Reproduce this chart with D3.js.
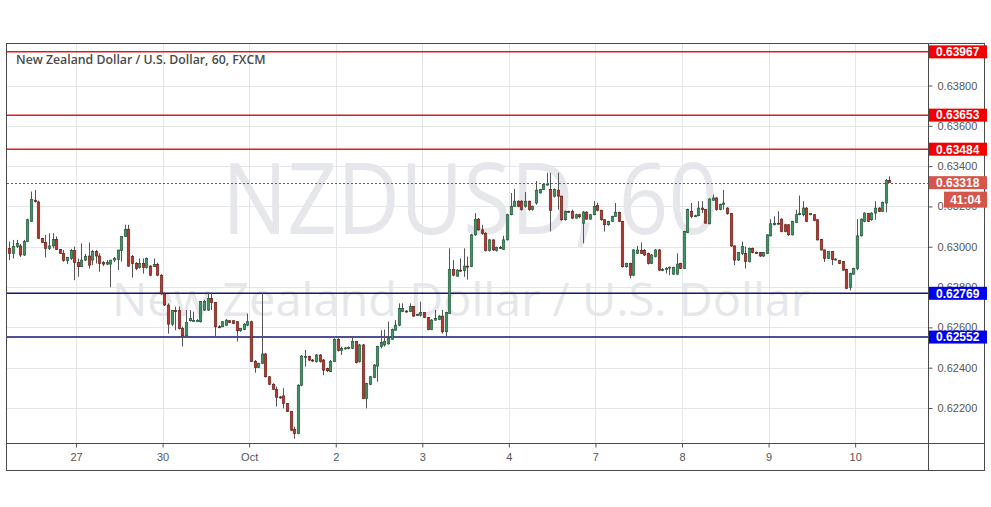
<!DOCTYPE html>
<html><head><meta charset="utf-8">
<script src="https://cdn.jsdelivr.net/npm/d3@7"></script>
<style>
html,body{margin:0;padding:0;background:#fff;}
svg{display:block;}
</style></head><body>
<svg id="chart" width="991" height="507"></svg>
<script>
const title = "New Zealand Dollar / U.S. Dollar, 60, FXCM";
const watermarkSymbol = "NZDUSD, 60";
const watermarkName = "New Zealand Dollar / U.S. Dollar";
const dayLabels = ["27","30","Oct","2","3","4","7","8","9","10"];
const dayStartIndex = [19,43,67,91,115,139,163,187,211,235];
const priceTicks = [0.638,0.636,0.634,0.632,0.630,0.628,0.626,0.624,0.622];
const resistanceLevels = [0.63967,0.63653,0.63484];
const supportLevels = [0.62769,0.62552];
const lastPrice = 0.63318;
const countdown = "41:04";
// hourly candles: [open, high, low, close]
const ohlc = [
[0.62992,0.63026,0.62934,0.62967],[0.62967,0.63034,0.62942,0.63001],[0.63001,0.63034,0.62994,0.63017],[0.63004,0.63014,0.62949,0.62959],
[0.62959,0.63034,0.62954,0.63026],[0.63026,0.63139,0.63024,0.63134],[0.63126,0.63274,0.63124,0.63234],[0.63231,0.63281,0.63219,0.63224],
[0.63222,0.63229,0.63039,0.63042],[0.63042,0.63044,0.63019,0.63021],[0.63021,0.63059,0.62947,0.62992],[0.62992,0.63067,0.62984,0.63004],
[0.63004,0.63067,0.62992,0.63037],[0.63037,0.63051,0.62984,0.62987],[0.62987,0.62989,0.62964,0.62967],[0.62967,0.62984,0.62926,0.62931],
[0.62931,0.62949,0.62914,0.62947],[0.62942,0.62989,0.62934,0.62981],[0.62981,0.63001,0.62834,0.62921],[0.62921,0.62942,0.62851,0.62901],
[0.62901,0.63017,0.62899,0.62934],[0.62934,0.62964,0.62929,0.62951],[0.62954,0.63021,0.62892,0.62909],[0.62934,0.62984,0.62909,0.62976],
[0.62976,0.62984,0.62917,0.62954],[0.62954,0.62967,0.62876,0.62917],[0.62921,0.62929,0.62904,0.62914],[0.62914,0.62934,0.62909,0.62921],
[0.62914,0.62934,0.62799,0.62934],[0.62934,0.62949,0.62924,0.62942],[0.62937,0.62984,0.62884,0.62984],[0.62981,0.63051,0.62926,0.63051],
[0.63051,0.63109,0.63049,0.63087],[0.63087,0.63109,0.62901,0.62904],[0.62951,0.62959,0.62847,0.62917],[0.62917,0.62924,0.62884,0.62892],
[0.62897,0.62942,0.62892,0.62917],[0.62917,0.62942,0.62867,0.62897],[0.62897,0.62947,0.62892,0.62942],[0.62904,0.62909,0.62854,0.62859],
[0.62901,0.62942,0.62899,0.62912],[0.62912,0.62921,0.62854,0.62859],[0.62859,0.62864,0.62761,0.62766],[0.62766,0.62771,0.62706,0.62711],
[0.62711,0.62719,0.62569,0.62616],[0.62616,0.62686,0.62606,0.62683],[0.62683,0.62703,0.62586,0.62678],[0.62683,0.62703,0.62589,0.62594],
[0.62594,0.62603,0.62505,0.62558],[0.62558,0.62686,0.62552,0.62624],[0.62633,0.62686,0.62628,0.62644],[0.62633,0.62678,0.62628,0.62634],
[0.62633,0.62641,0.62628,0.62634],[0.62628,0.62731,0.62624,0.62728],[0.62686,0.62736,0.62681,0.62728],[0.62686,0.62773,0.62681,0.62744],
[0.62744,0.62773,0.62686,0.62723],[0.62723,0.62726,0.62555,0.62603],[0.62603,0.62611,0.62596,0.62601],[0.62603,0.62631,0.62601,0.62628],
[0.62611,0.62641,0.62606,0.62636],[0.62633,0.62636,0.62621,0.62624],[0.62633,0.62636,0.62616,0.62619],[0.62628,0.62631,0.62530,0.62583],
[0.62583,0.62596,0.62578,0.62594],[0.62589,0.62621,0.62586,0.62616],[0.62611,0.62669,0.62606,0.62628],[0.62628,0.62633,0.62428,0.62430],
[0.62430,0.62438,0.62375,0.62401],[0.62401,0.62425,0.62398,0.62421],[0.62421,0.62769,0.62418,0.62468],[0.62468,0.62473,0.62351,0.62355],
[0.62355,0.62358,0.62313,0.62318],[0.62318,0.62323,0.62290,0.62293],[0.62293,0.62307,0.62207,0.62253],[0.62255,0.62260,0.62245,0.62253],
[0.62260,0.62298,0.62198,0.62223],[0.62223,0.62225,0.62180,0.62182],[0.62182,0.62185,0.62085,0.62090],[0.62093,0.62107,0.62048,0.62073],
[0.62073,0.62318,0.62070,0.62313],[0.62313,0.62463,0.62308,0.62458],[0.62453,0.62488,0.62405,0.62455],[0.62455,0.62460,0.62433,0.62438],
[0.62438,0.62443,0.62428,0.62436],[0.62430,0.62468,0.62425,0.62463],[0.62463,0.62468,0.62425,0.62430],[0.62438,0.62443,0.62363,0.62388],
[0.62396,0.62400,0.62378,0.62385],[0.62380,0.62438,0.62378,0.62430],[0.62430,0.62546,0.62428,0.62541],[0.62541,0.62546,0.62480,0.62485],
[0.62485,0.62505,0.62463,0.62496],[0.62496,0.62503,0.62490,0.62498],[0.62498,0.62505,0.62491,0.62500],[0.62496,0.62555,0.62493,0.62530],
[0.62530,0.62533,0.62421,0.62425],[0.62430,0.62518,0.62425,0.62513],[0.62513,0.62518,0.62245,0.62248],[0.62248,0.62325,0.62198,0.62321],
[0.62318,0.62358,0.62313,0.62355],[0.62351,0.62418,0.62348,0.62413],[0.62408,0.62508,0.62330,0.62505],[0.62505,0.62586,0.62496,0.62525],
[0.62513,0.62589,0.62505,0.62530],[0.62518,0.62628,0.62515,0.62546],[0.62541,0.62594,0.62538,0.62589],[0.62586,0.62636,0.62583,0.62611],
[0.62611,0.62719,0.62606,0.62694],[0.62678,0.62719,0.62676,0.62694],[0.62681,0.62686,0.62673,0.62679],[0.62678,0.62719,0.62676,0.62703],
[0.62703,0.62706,0.62651,0.62656],[0.62663,0.62668,0.62656,0.62664],[0.62661,0.62728,0.62653,0.62674],[0.62674,0.62676,0.62646,0.62649],
[0.62649,0.62651,0.62586,0.62589],[0.62589,0.62641,0.62586,0.62636],[0.62636,0.62686,0.62633,0.62644],[0.62639,0.62661,0.62636,0.62656],
[0.62656,0.62686,0.62569,0.62578],[0.62578,0.62678,0.62556,0.62674],[0.62669,0.62992,0.62666,0.62887],[0.62887,0.62934,0.62854,0.62859],
[0.62854,0.62889,0.62851,0.62884],[0.62884,0.62942,0.62876,0.62882],[0.62882,0.62992,0.62851,0.62904],[0.62904,0.62951,0.62837,0.62902],
[0.62902,0.63064,0.62899,0.63059],[0.63059,0.63167,0.63054,0.63137],[0.63137,0.63142,0.63079,0.63084],[0.63084,0.63109,0.63059,0.63067],
[0.63067,0.63072,0.62976,0.62981],[0.62981,0.63039,0.62976,0.63034],[0.63034,0.63037,0.62979,0.62984],[0.62981,0.63001,0.62976,0.62997],
[0.62997,0.63004,0.62989,0.62996],[0.62987,0.63054,0.62984,0.63034],[0.63034,0.63164,0.63031,0.63159],[0.63159,0.63267,0.63156,0.63201],
[0.63201,0.63287,0.63199,0.63226],[0.63226,0.63231,0.63196,0.63201],[0.63226,0.63231,0.63179,0.63184],[0.63201,0.63271,0.63194,0.63226],
[0.63226,0.63229,0.63179,0.63184],[0.63184,0.63204,0.63179,0.63201],[0.63217,0.63326,0.63209,0.63281],[0.63267,0.63287,0.63264,0.63284],
[0.63284,0.63314,0.63281,0.63309],[0.63309,0.63367,0.63304,0.63311],[0.63284,0.63367,0.63076,0.63181],[0.63251,0.63289,0.63244,0.63284],
[0.63281,0.63367,0.63184,0.63251],[0.63251,0.63254,0.63129,0.63134],[0.63134,0.63179,0.63129,0.63176],[0.63176,0.63179,0.63169,0.63174],
[0.63176,0.63184,0.63137,0.63142],[0.63142,0.63164,0.63139,0.63159],[0.63159,0.63164,0.63142,0.63149],[0.63117,0.63177,0.63017,0.63172],
[0.63172,0.63176,0.63134,0.63137],[0.63137,0.63162,0.63134,0.63159],[0.63159,0.63226,0.63156,0.63201],[0.63204,0.63219,0.63176,0.63181],
[0.63181,0.63184,0.63129,0.63134],[0.63134,0.63137,0.63076,0.63109],[0.63109,0.63129,0.63104,0.63126],[0.63126,0.63154,0.63124,0.63151],
[0.63151,0.63217,0.63149,0.63171],[0.63171,0.63174,0.63122,0.63126],[0.63126,0.63129,0.62896,0.62901],[0.62901,0.62921,0.62896,0.62917],
[0.62917,0.62921,0.62844,0.62859],[0.62859,0.62989,0.62854,0.62984],[0.62967,0.63004,0.62964,0.62984],[0.62981,0.63021,0.62964,0.62967],
[0.62981,0.62989,0.62954,0.62959],[0.62967,0.62971,0.62912,0.62917],[0.62917,0.62964,0.62914,0.62959],[0.62951,0.62989,0.62947,0.62984],
[0.62984,0.62989,0.62879,0.62884],[0.62884,0.62894,0.62879,0.62887],[0.62887,0.62899,0.62867,0.62892],[0.62897,0.62901,0.62859,0.62899],
[0.62864,0.62901,0.62861,0.62897],[0.62864,0.62967,0.62861,0.62914],[0.62917,0.62921,0.62889,0.62892],[0.62892,0.63079,0.62889,0.63076],
[0.63071,0.63189,0.63069,0.63184],[0.63176,0.63217,0.63142,0.63151],[0.63151,0.63159,0.63147,0.63154],[0.63154,0.63226,0.63151,0.63192],
[0.63192,0.63226,0.63167,0.63184],[0.63184,0.63187,0.63114,0.63117],[0.63114,0.63241,0.63111,0.63237],[0.63231,0.63259,0.63227,0.63242],
[0.63242,0.63246,0.63179,0.63184],[0.63184,0.63214,0.63181,0.63209],[0.63209,0.63281,0.63184,0.63217],[0.63192,0.63196,0.63159,0.63164],
[0.63164,0.63167,0.62999,0.63004],[0.63004,0.63007,0.62909,0.62934],[0.62934,0.62974,0.62929,0.62971],[0.62967,0.63026,0.62959,0.63001],
[0.62967,0.63001,0.62892,0.62926],[0.62926,0.62996,0.62922,0.62992],[0.62992,0.62996,0.62967,0.62971],[0.62971,0.62976,0.62964,0.62969],
[0.62971,0.62974,0.62949,0.62954],[0.62954,0.62974,0.62949,0.62971],[0.62967,0.63062,0.62964,0.63059],[0.63054,0.63137,0.63051,0.63114],
[0.63109,0.63151,0.63106,0.63117],[0.63117,0.63176,0.63109,0.63116],[0.63137,0.63141,0.63072,0.63076],[0.63109,0.63114,0.63072,0.63076],
[0.63109,0.63112,0.63054,0.63059],[0.63059,0.63129,0.63056,0.63126],[0.63121,0.63184,0.63117,0.63159],[0.63159,0.63254,0.63156,0.63164],
[0.63159,0.63226,0.63151,0.63192],[0.63192,0.63196,0.63122,0.63126],[0.63159,0.63167,0.63156,0.63164],[0.63159,0.63162,0.63127,0.63131],
[0.63134,0.63137,0.63031,0.63034],[0.63037,0.63039,0.62981,0.62984],[0.62984,0.62987,0.62924,0.62942],[0.62942,0.62979,0.62939,0.62976],
[0.62976,0.62979,0.62909,0.62937],[0.62937,0.62944,0.62932,0.62939],[0.62931,0.62934,0.62914,0.62917],[0.62926,0.62929,0.62881,0.62884],
[0.62887,0.62891,0.62789,0.62794],[0.62799,0.62871,0.62783,0.62867],[0.62864,0.62896,0.62861,0.62892],[0.62892,0.63137,0.62884,0.63054],
[0.63054,0.63141,0.63051,0.63137],[0.63126,0.63171,0.63122,0.63167],[0.63164,0.63167,0.63122,0.63126],[0.63134,0.63171,0.63129,0.63167],
[0.63167,0.63226,0.63134,0.63192],[0.63192,0.63196,0.63172,0.63176],[0.63176,0.63224,0.63172,0.63221],[0.63217,0.63336,0.63171,0.63329],
[0.63329,0.63349,0.63317,0.63318]
];

const svg = d3.select("#chart");
const L = 7, R = 928, T = 43.5, B = 443, FR = 984.5, FB = 470.5;

const x = d3.scaleLinear().domain([-0.5, 254.7]).range([7.5, R]);
const y = d3.scaleLinear().domain([0.622, 0.638]).range([408, 85.5]);

svg.append("rect").attr("width", 991).attr("height", 507).attr("fill", "#fff");

svg.append("defs").append("clipPath").attr("id", "plot")
  .append("rect").attr("x", L).attr("y", T).attr("width", R - L).attr("height", B - T);

const plot = svg.append("g").attr("clip-path", "url(#plot)");

// grid
plot.append("g").selectAll("line").data(dayStartIndex).join("line")
  .attr("x1", d => Math.round(x(d - 0.5)) + 0.5).attr("x2", d => Math.round(x(d - 0.5)) + 0.5)
  .attr("y1", T).attr("y2", B).attr("stroke", "#e4e6ea").attr("stroke-width", 1);
plot.append("g").selectAll("line").data(priceTicks).join("line")
  .attr("x1", L).attr("x2", R)
  .attr("y1", d => Math.round(y(d)) + 0.5).attr("y2", d => Math.round(y(d)) + 0.5)
  .attr("stroke", "#e4e6ea").attr("stroke-width", 1);

// watermark
plot.append("text").attr("x", 222).attr("y", 234)
  .attr("font-family", "'Open Sans', 'Liberation Sans', sans-serif").attr("font-size", 98)
  .attr("textLength", 496).attr("lengthAdjust", "spacingAndGlyphs")
  .attr("fill", "#e6e7ea").text(watermarkSymbol);
plot.append("text").attr("x", 112).attr("y", 316)
  .attr("font-family", "'Open Sans', 'Liberation Sans', sans-serif").attr("font-size", 46)
  .attr("textLength", 698).attr("lengthAdjust", "spacingAndGlyphs")
  .attr("fill", "#e6e7ea").text(watermarkName);

// level lines
plot.append("g").selectAll("line").data(resistanceLevels).join("line")
  .attr("x1", L).attr("x2", R)
  .attr("y1", d => y(d)).attr("y2", d => y(d))
  .attr("stroke", "#e31a1a").attr("stroke-width", 1.5);
plot.append("g").selectAll("line").data(supportLevels).join("line")
  .attr("x1", L).attr("x2", R)
  .attr("y1", d => y(d)).attr("y2", d => y(d))
  .attr("stroke", "#16166e").attr("stroke-width", 1.5);

// last price dotted line
plot.append("line").attr("x1", L).attr("x2", R)
  .attr("y1", Math.round(y(lastPrice)) + 0.5).attr("y2", Math.round(y(lastPrice)) + 0.5)
  .attr("stroke", "#c0392b").attr("stroke-width", 1).attr("stroke-dasharray", "2,2");

// candles
const cg = plot.append("g");
cg.selectAll("line").data(ohlc).join("line")
  .attr("x1", (d, i) => Math.round(x(i)) + 0.5).attr("x2", (d, i) => Math.round(x(i)) + 0.5)
  .attr("y1", d => y(d[1])).attr("y2", d => y(d[2]))
  .attr("stroke", "#555").attr("stroke-width", 1);
cg.selectAll("rect").data(ohlc).join("rect")
  .attr("x", (d, i) => Math.round(x(i)) - 0.75)
  .attr("width", 2.5)
  .attr("y", d => y(Math.max(d[0], d[3])))
  .attr("height", d => Math.max(1, Math.abs(y(d[0]) - y(d[3]))))
  .attr("fill", d => d[3] >= d[0] ? "#3f9365" : "#b23a30")
  .attr("stroke", d => d[3] >= d[0] ? "#1f4f35" : "#5e1a15")
  .attr("stroke-width", 0.6);

// right axis
const ay = svg.append("g").attr("transform", `translate(${R + 0.5},0)`)
  .call(d3.axisRight(y).tickValues(priceTicks).tickFormat(d3.format(".5f")).tickSize(4).tickPadding(5));
ay.select(".domain").remove();
ay.selectAll("line").attr("stroke", "#555");
ay.selectAll("text").attr("fill", "#555").attr("font-size", 11)
  .attr("font-family", "'Liberation Sans', Arial, sans-serif");

// bottom axis
const ax = svg.append("g").attr("transform", `translate(0,${B + 0.5})`)
  .call(d3.axisBottom(x).tickValues(dayStartIndex.map(d => d - 0.5))
    .tickFormat((d, i) => dayLabels[i]).tickSize(4).tickPadding(6));
ax.select(".domain").remove();
ax.selectAll("line").attr("stroke", "#555");
ax.selectAll("text").attr("fill", "#555").attr("font-size", 11)
  .attr("font-family", "'Liberation Sans', Arial, sans-serif");

// frame
svg.append("rect").attr("x", 6.5).attr("y", T).attr("width", FR - 6.5).attr("height", FB - T)
  .attr("fill", "none").attr("stroke", "#4a4a4a").attr("stroke-width", 1);
svg.append("line").attr("x1", R + 0.5).attr("x2", R + 0.5).attr("y1", T).attr("y2", FB)
  .attr("stroke", "#4a4a4a");
svg.append("line").attr("x1", 6.5).attr("x2", FR).attr("y1", B + 0.5).attr("y2", B + 0.5)
  .attr("stroke", "#4a4a4a");

// level labels
function priceTag(value, bg, h) {
  const cy = y(value);
  const g = svg.append("g");
  g.append("rect").attr("x", R + 1).attr("y", cy - h / 2).attr("width", 987 - R - 1).attr("height", h)
    .attr("fill", bg);
  g.append("text").attr("x", 936).attr("y", cy).attr("dy", "0.36em")
    .attr("font-family", "'Liberation Sans', Arial, sans-serif").attr("font-weight", "bold")
    .attr("font-size", 12).attr("fill", "#fff").text(d3.format(".5f")(value));
}
resistanceLevels.forEach(v => priceTag(v, "#f20000", 13));
supportLevels.forEach(v => priceTag(v, "#0000f0", 13));
priceTag(lastPrice, "#d4564a", 13);
// countdown box
{
  const cy = y(lastPrice) + 17;
  svg.append("rect").attr("x", 944).attr("y", cy - 8).attr("width", 43).attr("height", 16).attr("fill", "#d4564a");
  svg.append("text").attr("x", 965.5).attr("y", cy).attr("dy", "0.36em").attr("text-anchor", "middle")
    .attr("font-family", "'Liberation Sans', Arial, sans-serif").attr("font-weight", "bold")
    .attr("font-size", 12).attr("fill", "#fff").text(countdown);
}

// title
svg.append("text").attr("x", 16).attr("y", 64)
  .attr("font-family", "'Open Sans', 'Liberation Sans', sans-serif").attr("font-weight", 600)
  .attr("font-size", 12.3).attr("fill", "#4a4a4a").text(title);
</script>
</body></html>
